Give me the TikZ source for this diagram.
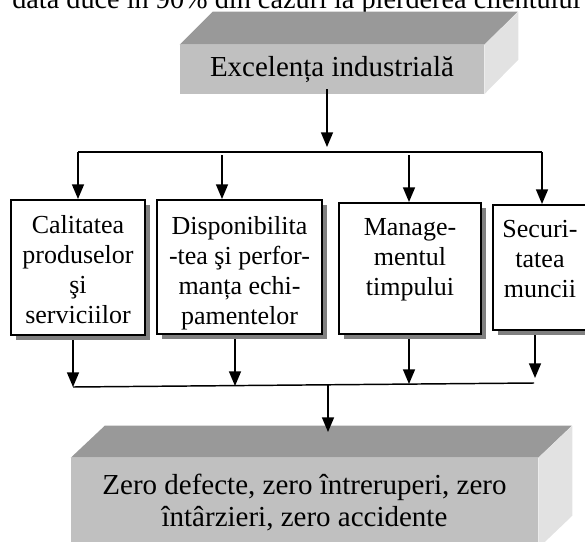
\documentclass[tikz,border=0pt]{standalone}
\usepackage{fontspec}
\setmainfont{Liberation Serif}
\usetikzlibrary{positioning,arrows.meta,shadows}

\definecolor{topface}{HTML}{999999}
\definecolor{frontface}{HTML}{C0C0C0}
\definecolor{sideface}{HTML}{E2E2E2}

\tikzset{
  conn/.style={line width=1.1pt},
  arr/.style={conn,-{Triangle[length=11pt,width=9pt]}},
  itembox/.style={draw,line width=1.5pt,fill=white,inner sep=0pt,
    general shadow={fill=black!50,shadow xshift=3.75pt,shadow yshift=-3.75pt}},
  itemtext/.style={inner sep=0pt,align=center,anchor=base,font=\fontsize{19.5}{22.5}\selectfont},
  blockfront/.style={fill=frontface,inner sep=0pt,align=center,font=\fontsize{21.75}{24}\selectfont}
}

\begin{document}
\begin{tikzpicture}[x=0.75pt,y=0.75pt,yscale=-1,xscale=1]
    \path[use as bounding box] (0,0) rectangle (585,542);
    \clip (0,0) rectangle (585,542);

    % Text Node (line of the page above the figure)
    \node[anchor=base west,inner sep=0pt,font=\fontsize{21.2}{26}\selectfont] (pageline) at (12,9) {dată duce în 90\% din cazuri la pierderea clientului};

    % top block
    \node[blockfront,minimum width=228pt,minimum height=36.75pt] (excel) at (332,69.5) {Excelența industrială};
    \fill[topface] (excel.north west) -- ++(33,-33) -- ++(305,0) -- (excel.north east) -- cycle;
    \fill[sideface] (excel.north east) -- ++(34,-33) -- ++(0,48) -- (excel.south east) -- cycle;

    % four boxes
    \node[itembox,minimum width=100.5pt,minimum height=101.25pt] (cal) at (78,267.5) {};
    \node[itembox,minimum width=123.75pt,minimum height=100.5pt] (disp) at (239.5,267) {};
    \node[itembox,minimum width=106.5pt,minimum height=98.25pt] (mgmt) at (410,268.5) {};
    \node[itembox,minimum width=73.5pt,minimum height=93.75pt] (secu) at (542,267.5) {};

    % Text Node (anchored at the last line)
    \node[itemtext] (calTxt) at (78,323) {Calitatea\\produselor\\şi\\serviciilor};
    % Text Node
    \node[itemtext] (dispTxt) at (239.5,324) {Disponibilita\\-tea şi perfor-\\manța echi-\\pamentelor};
    % Text Node
    \node[itemtext] (mgmtTxt) at (410,295) {Manage-\\mentul\\timpului};
    % Text Node
    \node[itemtext] (secuTxt) at (540,297) {Securi-\\tatea\\muncii};

    % bottom block
    \node[blockfront,minimum width=350.25pt,minimum height=67.5pt] (zero) at (304.5,503) {Zero defecte, zero întreruperi, zero\\întârzieri, zero accidente};
    \fill[topface] (zero.north west) -- ++(34,-32) -- ++(467,0) -- (zero.north east) -- cycle;
    \fill[sideface] (zero.north east) -- ++(34,-32) -- ++(0,90) -- (zero.south east) -- cycle;

    % upper connectors
    \coordinate (tipTop) at (327,147);
    \coordinate (busTopL) at (78,152);
    \coordinate (busTopR) at (542,152);
    \coordinate (t2) at (222,155);
    \coordinate (t3) at (409,155);
    \draw[arr] ([xshift=-3.75pt,yshift=-3.75pt]excel.south) -- (tipTop);
    \draw[conn] (busTopL) -- (busTopR);
    \draw[arr] (busTopL) -- (cal.north);
    \draw[arr] (t2) -- (t2 |- disp.north);
    \draw[arr] (t3) -- (t3 |- mgmt.north);
    \draw[arr] (busTopR) -- (secu.north);

    % lower connectors
    \coordinate (busBotL) at (73,387);
    \coordinate (busBotR) at (534,383);
    \coordinate (b2) at (235,386);
    \coordinate (b3) at (409,384);
    \coordinate (b4) at (535,378);
    \coordinate (bMid) at (328,385);
    \draw[conn] (busBotL) -- (busBotR);
    \draw[arr] (cal.south -| busBotL) ++(0,4) -- (busBotL);
    \draw[arr] (disp.south -| b2) ++(0,4) -- (b2);
    \draw[arr] (mgmt.south -| b3) ++(0,4) -- (b3);
    \draw[arr] (secu.south -| b4) ++(0,4) -- (b4);
    \draw[arr] (bMid) -- ++(0,47);

\end{tikzpicture}
\end{document}
